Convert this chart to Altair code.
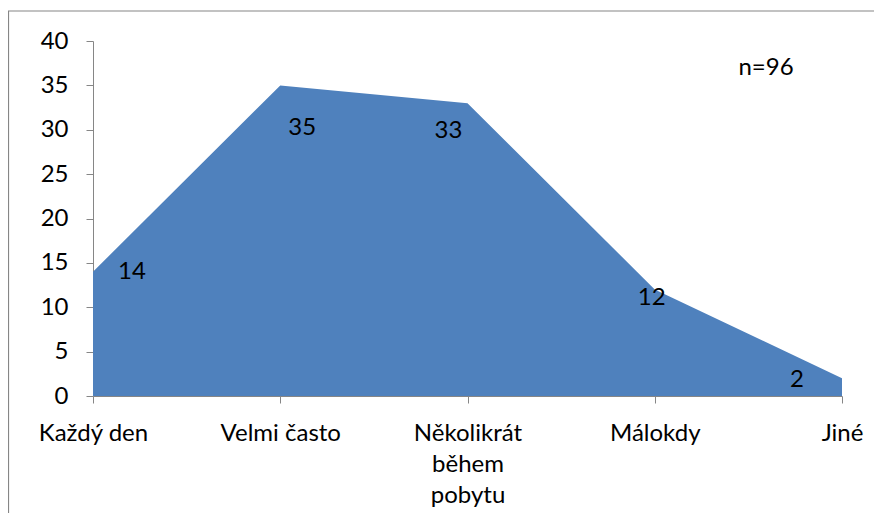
import altair as alt
import pandas as pd

categories = ["Každý den", "Velmi často", "Několikrát\nběhem\npobytu", "Málokdy", "Jiné"]
values = [14, 35, 33, 12, 2]
y_ticks = [0, 5, 10, 15, 20, 25, 30, 35, 40]
note = "n=96"

df = pd.DataFrame({"idx": list(range(len(categories))), "cat": categories, "value": values})

FONT = "Lato"
FS = 24
label_expr = "split(['" + "','".join(c.replace("\n", "|") for c in categories) + "'][datum.value], '|')"

x = alt.X("idx:Q", scale=alt.Scale(domain=[0, len(categories) - 1], nice=False, zero=False),
          axis=alt.Axis(values=list(range(len(categories))), labelExpr=label_expr, title=None,
                        grid=False, domainColor="#868686", tickColor="#868686", tickSize=7,
                        labelFont=FONT, labelFontSize=FS, labelColor="black", labelPadding=18,
                        labelLineHeight=31, labelBaseline="top", labelFlush=False))
y = alt.Y("value:Q", scale=alt.Scale(domain=[0, 40], nice=False),
          axis=alt.Axis(values=y_ticks, title=None, grid=False, domainColor="#868686",
                        tickColor="#868686", tickSize=7, labelFont=FONT, labelFontSize=FS,
                        labelColor="black", labelPadding=18))

base = alt.Chart(df)
area = base.mark_area(color="#4F81BD", opacity=1).encode(x=x, y=y)

offsets = {0: (39, 0), 1: (22, 43), 2: (-19, 28), 3: (-3, 8), 4: (-45, 2)}
texts = []
for i, (dx, dy) in offsets.items():
    texts.append(base.transform_filter(alt.datum.idx == i).mark_text(
        font=FONT, fontSize=FS, color="black", dx=dx, dy=dy).encode(
        x="idx:Q", y="value:Q", text="value:Q"))

note_df = pd.DataFrame({"t": [note]})
note_mark = alt.Chart(note_df).mark_text(font=FONT, fontSize=FS, color="black").encode(
    x=alt.value(673), y=alt.value(27), text="t:N")

frame = alt.Chart(note_df).mark_rect(fill=None, stroke="#868686", strokeWidth=1.2).encode(
    x=alt.value(-84.5), x2=alt.value(900), y=alt.value(-30), y2=alt.value(600))

chart = alt.layer(frame, area, *texts, note_mark).properties(
    width=749, height=355,
    autosize=alt.AutoSizeParams(type="none"),
    padding={"left": 85, "top": 33, "right": 32, "bottom": 117},
).configure_view(stroke=None)

chart.save("out.html", embed_options={"renderer": "svg", "actions": False})
